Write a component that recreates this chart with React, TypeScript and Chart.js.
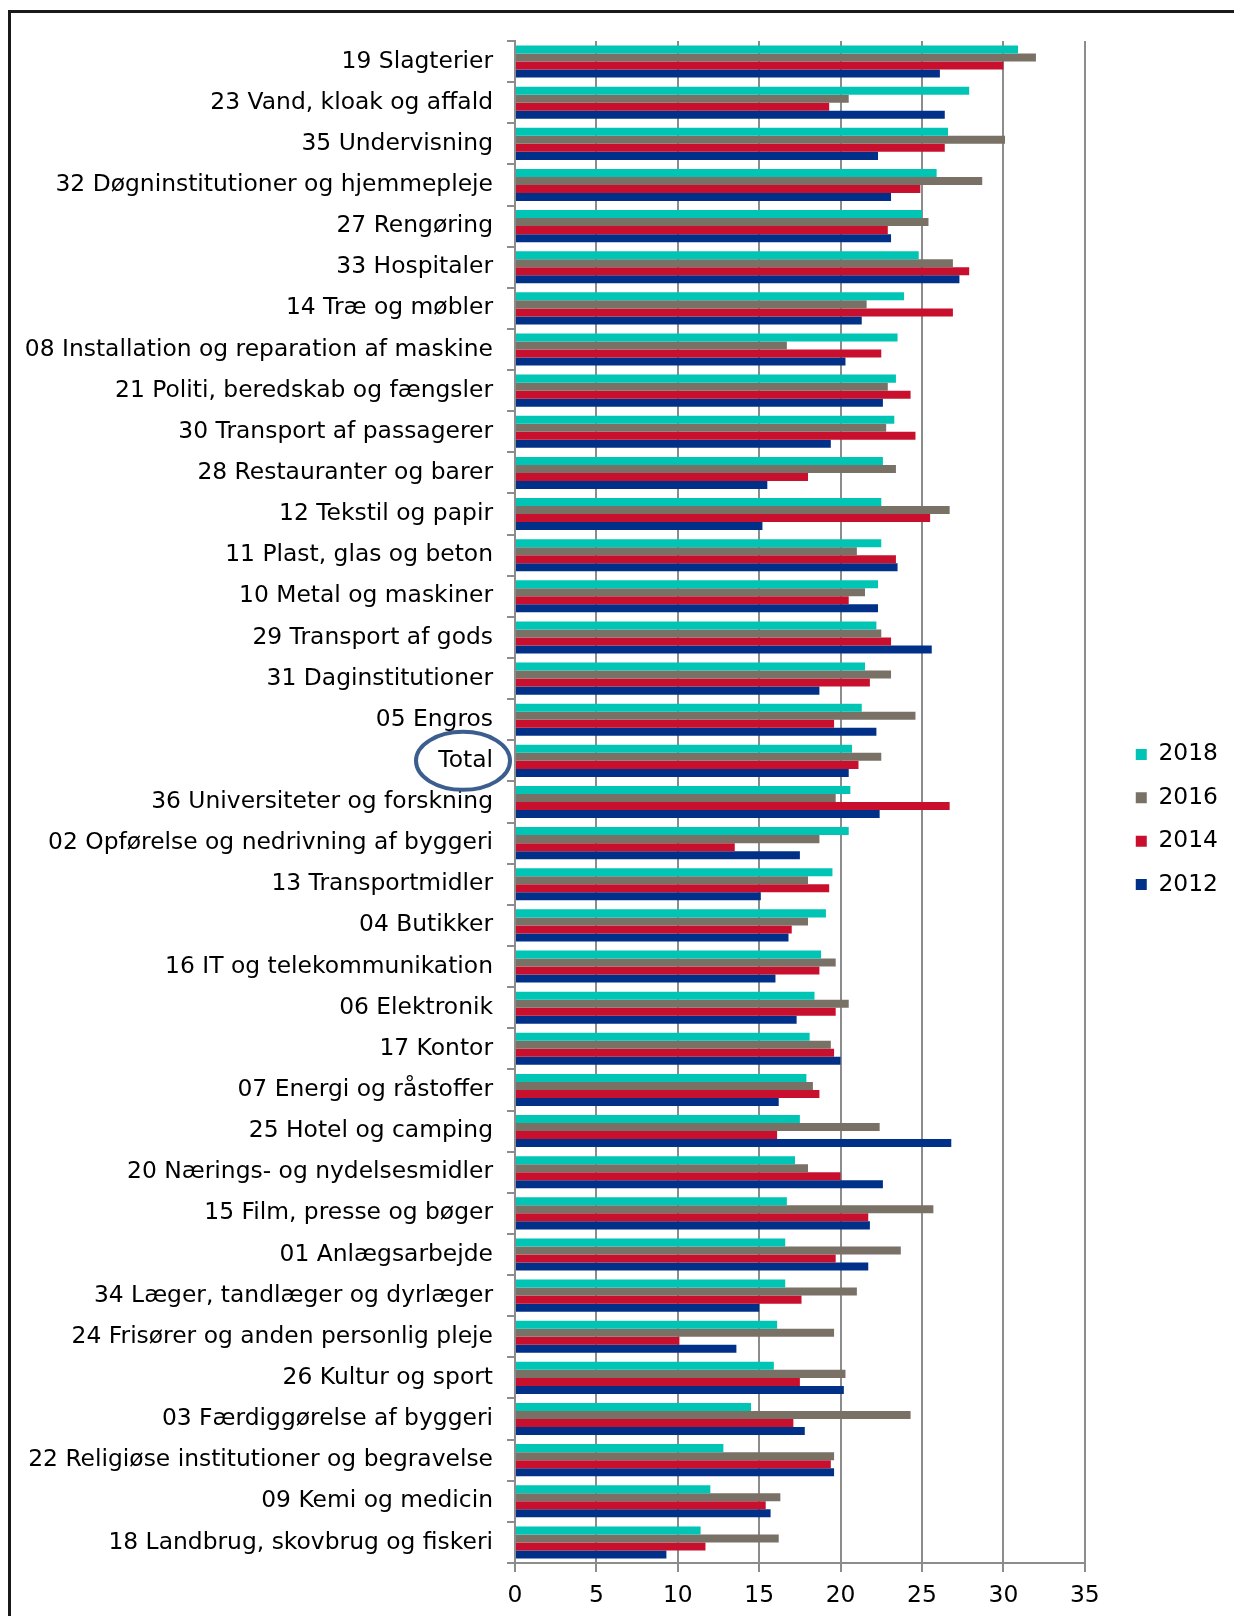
import React, { useEffect, useRef } from "react";
import { Chart, registerables } from "chart.js";

Chart.register(...registerables);

const categories = [
  "19 Slagterier",
  "23 Vand, kloak og affald",
  "35 Undervisning",
  "32 Døgninstitutioner og hjemmepleje",
  "27 Rengøring",
  "33 Hospitaler",
  "14 Træ og møbler",
  "08 Installation og reparation af maskine",
  "21 Politi, beredskab og fængsler",
  "30 Transport af passagerer",
  "28 Restauranter og barer",
  "12 Tekstil og papir",
  "11 Plast, glas og beton",
  "10 Metal og maskiner",
  "29 Transport af gods",
  "31 Daginstitutioner",
  "05 Engros",
  "Total",
  "36 Universiteter og forskning",
  "02 Opførelse og nedrivning af byggeri",
  "13 Transportmidler",
  "04 Butikker",
  "16 IT og telekommunikation",
  "06 Elektronik",
  "17 Kontor",
  "07 Energi og råstoffer",
  "25 Hotel og camping",
  "20 Nærings- og nydelsesmidler",
  "15 Film, presse og bøger",
  "01 Anlægsarbejde",
  "34 Læger, tandlæger og dyrlæger",
  "24 Frisører og anden personlig pleje",
  "26 Kultur og sport",
  "03 Færdiggørelse af byggeri",
  "22 Religiøse institutioner og begravelse",
  "09 Kemi og medicin",
  "18 Landbrug, skovbrug og fiskeri",
];

const years = ["2018", "2016", "2014", "2012"];
const colors = ["#00C5B5", "#7A7166", "#C8102E", "#003087"];

const v2018 = [30.9, 27.9, 26.6, 25.9, 25.0, 24.8, 23.9, 23.5, 23.4, 23.3, 22.6, 22.5, 22.5, 22.3, 22.2, 21.5, 21.3, 20.7, 20.6, 20.5, 19.5, 19.1, 18.8, 18.4, 18.1, 17.9, 17.5, 17.2, 16.7, 16.6, 16.6, 16.1, 15.9, 14.5, 12.8, 12.0, 11.4];
const v2016 = [32.0, 20.5, 30.1, 28.7, 25.4, 26.9, 21.6, 16.7, 22.9, 22.8, 23.4, 26.7, 21.0, 21.5, 22.5, 23.1, 24.6, 22.5, 19.7, 18.7, 18.0, 18.0, 19.7, 20.5, 19.4, 18.3, 22.4, 18.0, 25.7, 23.7, 21.0, 19.6, 20.3, 24.3, 19.6, 16.3, 16.2];
const v2014 = [30.0, 19.3, 26.4, 24.9, 22.9, 27.9, 26.9, 22.5, 24.3, 24.6, 18.0, 25.5, 23.4, 20.5, 23.1, 21.8, 19.6, 21.1, 26.7, 13.5, 19.3, 17.0, 18.7, 19.7, 19.6, 18.7, 16.1, 20.0, 21.7, 19.7, 17.6, 10.1, 17.5, 17.1, 19.4, 15.4, 11.7];
const v2012 = [26.1, 26.4, 22.3, 23.1, 23.1, 27.3, 21.3, 20.3, 22.6, 19.4, 15.5, 15.2, 23.5, 22.3, 25.6, 18.7, 22.2, 20.5, 22.4, 17.5, 15.1, 16.8, 16.0, 17.3, 20.0, 16.2, 26.8, 22.6, 21.8, 21.7, 15.0, 13.6, 20.2, 17.8, 19.6, 15.7, 9.3];

const xTickMin = 0;
const xTickMax = 35;
const xTickStep = 5;

const highlighted = "Total";

const FONT = "'DejaVu Sans', Verdana, sans-serif";
const FONT_SIZE = 23.4;

const circlePlugin = {
  id: "totalCircle",
  afterDraw(chart: any) {
    const yScale = chart.scales.y;
    const idx = categories.indexOf(highlighted);
    if (idx < 0) return;
    const cy = yScale.getPixelForValue(idx);
    const cx = chart.chartArea.left - 52;
    const ctx = chart.ctx;
    ctx.save();
    ctx.strokeStyle = "#3C5E8E";
    ctx.lineWidth = 4;
    ctx.beginPath();
    ctx.ellipse(cx, cy, 47, 29, 0, 0, Math.PI * 2);
    ctx.stroke();
    ctx.restore();
  },
};

// nudges the legend block up a little so it sits where the reference has it
const legendShiftPlugin = {
  id: "legendShift",
  afterLayout(chart: any) {
    const lg = chart.legend;
    if (!lg) return;
    lg.top -= 9;
    lg.bottom -= 9;
  },
};

export default function App() {
  const canvasRef = useRef<HTMLCanvasElement | null>(null);

  useEffect(() => {
    const canvas = canvasRef.current;
    if (!canvas) return;
    Chart.defaults.font.family = FONT;
    const series = [v2018, v2016, v2014, v2012];
    const chart = new Chart(canvas, {
      type: "bar",
      data: {
        labels: categories,
        datasets: years.map((y, i) => ({
          label: y,
          data: series[i],
          backgroundColor: colors[i],
          borderWidth: 0,
          barPercentage: 1.0,
          categoryPercentage: 0.78,
        })),
      },
      options: {
        indexAxis: "y",
        responsive: false,
        animation: false,
        maintainAspectRatio: false,
        layout: { padding: { top: 41, right: 6, bottom: 0, left: 0 } },
        plugins: {
          tooltip: { enabled: false },
          legend: {
            position: "right",
            align: "center",
            labels: {
              boxWidth: 11,
              boxHeight: 11,
              padding: 20,
              color: "#000",
              font: { size: FONT_SIZE, family: FONT },
            },
          },
        },
        scales: {
          x: {
            min: xTickMin,
            max: xTickMax,
            ticks: {
              stepSize: xTickStep,
              color: "#000",
              font: { size: FONT_SIZE, family: FONT },
              padding: 10,
            },
            grid: { color: "#8C8C8C", lineWidth: 2, tickLength: 9, drawTicks: true },
            border: { color: "#8C8C8C", width: 2 },
            afterFit: (s: any) => {
              s.height = 53;
            },
          },
          y: {
            ticks: {
              autoSkip: false,
              color: "#000",
              font: { size: FONT_SIZE, family: FONT },
              padding: 14,
            },
            grid: {
              drawOnChartArea: false,
              color: "#8C8C8C",
              lineWidth: 2,
              tickLength: 8,
              offset: true,
            },
            border: { color: "#8C8C8C", width: 2 },
            afterFit: (s: any) => {
              s.width = 515;
            },
          },
          y2: {
            type: "linear",
            position: "right",
            display: true,
            grid: { display: false },
            ticks: { display: false },
            border: { display: false },
            afterFit: (s: any) => {
              s.width = 31;
            },
          },
        },
      },
      plugins: [circlePlugin, legendShiftPlugin],
    } as any);
    return () => chart.destroy();
  }, []);

  return (
    <div
      style={{
        position: "absolute",
        left: 0,
        top: 0,
        width: 1234,
        height: 1616,
        overflow: "hidden",
        background: "#fff",
      }}
    >
      <canvas
        ref={canvasRef}
        width={1234}
        height={1616}
        style={{ position: "absolute", left: 0, top: 0, width: 1234, height: 1616 }}
      />
      <div
        style={{
          position: "absolute",
          left: 8,
          top: 10,
          width: 1300,
          height: 1700,
          borderTop: "3px solid #1a1a1a",
          borderLeft: "3px solid #1a1a1a",
          pointerEvents: "none",
        }}
      />
    </div>
  );
}
